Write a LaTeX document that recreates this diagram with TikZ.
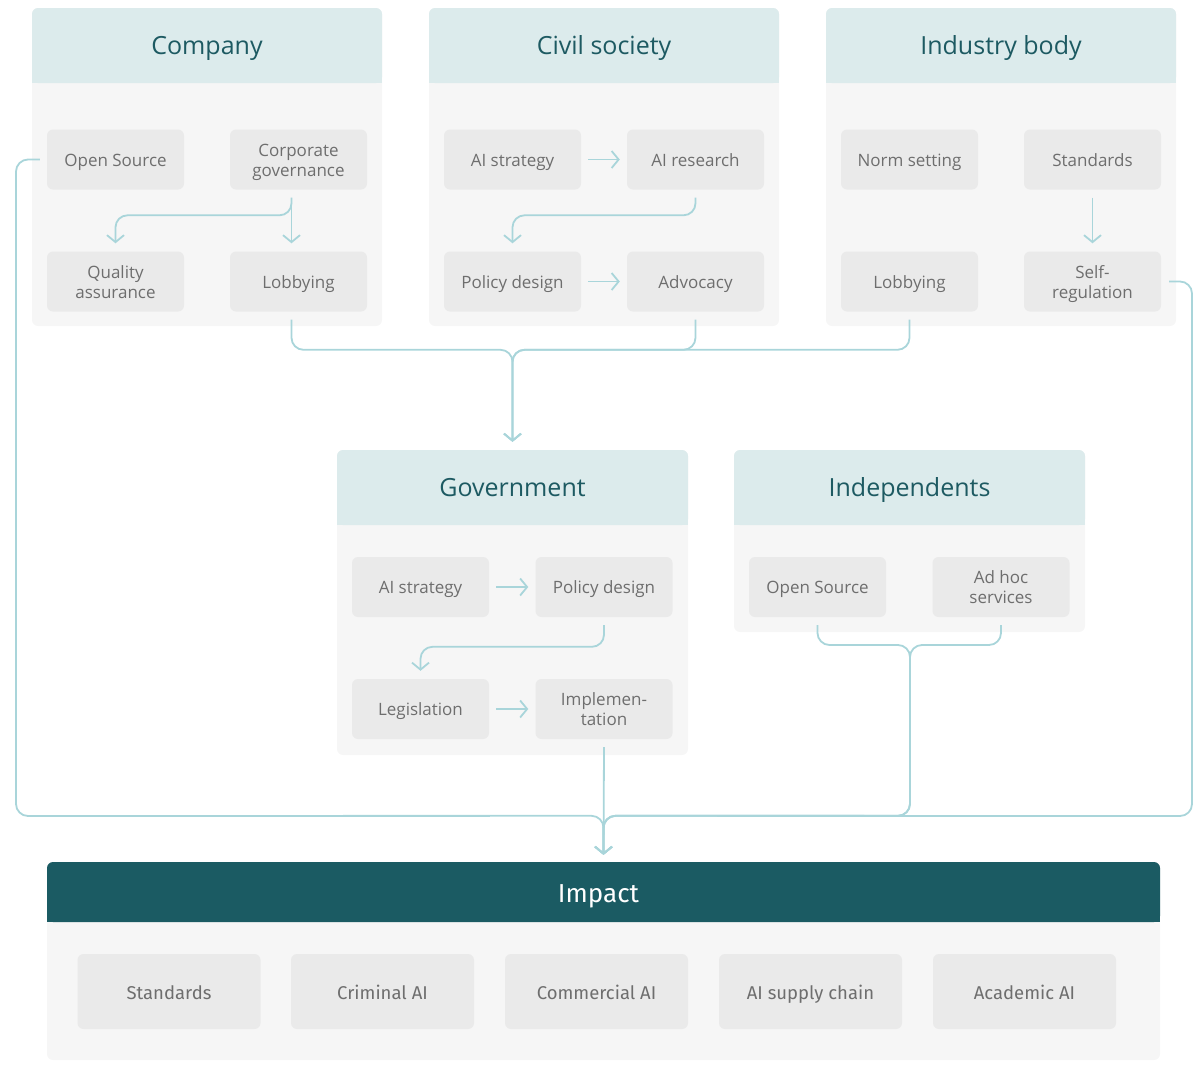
\documentclass[tikz,border=0pt]{standalone}
\usepackage{fontspec}
\setmainfont{Open Sans}
\newfontfamily\impactfont{Fira Sans}
\usetikzlibrary{arrows.meta,positioning,calc}
\definecolor{headfill}{HTML}{DCEBEC}
\definecolor{bodyfill}{HTML}{F6F6F6}
\definecolor{itemfill}{HTML}{EAEAEA}
\definecolor{itemgray}{HTML}{6E6E6E}
\definecolor{titleteal}{HTML}{1D5A62}
\definecolor{impactteal}{HTML}{1B5B63}
\definecolor{flowline}{HTML}{A9D5DA}
\newcommand{\itemstrut}{\rule[-6pt]{0pt}{25pt}}
\newcommand{\outstrut}{\rule[-6pt]{0pt}{27pt}}
\newcommand{\twolines}[2]{\rule{0pt}{19pt}#1\\#2\rule[-6pt]{0pt}{6pt}}
\tikzset{
  item/.style={fill=itemfill, rounded corners=6pt, minimum width=137pt, minimum height=60pt,
    inner sep=0pt, align=center, text=itemgray, font=\fontsize{17}{20}\selectfont,
    execute at begin node=\itemstrut},
  outcome/.style={fill=itemfill, rounded corners=6pt, minimum width=183pt, minimum height=75pt,
    inner sep=0pt, text=itemgray, font=\impactfont\fontsize{18.5}{22}\selectfont,
    execute at begin node=\outstrut},
  headtext/.style={text=titleteal, font=\fontsize{25}{30}\selectfont, inner sep=0pt,
    text height=20pt, text depth=3pt},
  flow/.style={draw=flowline, line width=1.8pt, rounded corners=12pt},
  tip/.style={-{Straight Barb[length=7pt,width=17pt]}}
}
% panel: name, left, right, top, bottom, title
\newcommand{\groupbox}[6]{%
  \fill[bodyfill,rounded corners=6pt] (#2,#4) rectangle (#3,#5);
  \fill[headfill,rounded corners=6pt] (#2,#4) rectangle (#3,#4+75);
  \fill[headfill] (#2,#4+40) rectangle (#3,#4+75);
  \node[headtext,minimum width=#3pt-#2pt,minimum height=75pt] (#1) at ({(#2+#3)/2},#4+37.5) {#6};
}

\begin{document}
\begin{tikzpicture}[x=1pt,y=-1pt]
  \useasboundingbox (0,0) rectangle (1200,1066);

  % top row
  \groupbox{comp}{32}{382}{8}{326}{Company}
  \groupbox{civ}{429}{779}{8}{326}{Civil society}
  \groupbox{ind}{826}{1176}{8}{326}{Industry body}

  \node[item] (os1) at (115.5,159.5) {Open Source};
  \node[item] (cg) at (298.5,159.5) {\twolines{Corporate}{governance}};
  \node[item] (qa) at (115.5,281.5) {\twolines{Quality}{assurance}};
  \node[item] (lob1) at (298.5,281.5) {Lobbying};

  \node[item] (ais) at (512.5,159.5) {AI strategy};
  \node[item] (air) at (695.5,159.5) {AI research};
  \node[item] (pd1) at (512.5,281.5) {Policy design};
  \node[item] (adv) at (695.5,281.5) {Advocacy};

  \node[item] (ns) at (909.5,159.5) {Norm setting};
  \node[item] (std1) at (1092.5,159.5) {Standards};
  \node[item] (lob2) at (909.5,281.5) {Lobbying};
  \node[item] (sr) at (1092.5,281.5) {\twolines{Self-}{regulation}};

  % middle row
  \groupbox{gov}{337}{688}{450}{755}{Government}
  \groupbox{indep}{734}{1085}{450}{632}{Independents}

  \node[item] (ais2) at (420.5,587) {AI strategy};
  \node[item] (pd2) at (604,587) {Policy design};
  \node[item] (leg) at (420.5,709) {Legislation};
  \node[item] (imp) at (604,709) {\twolines{Implemen-}{tation}};

  \node[item] (os2) at (817.5,587) {Open Source};
  \node[item] (adhoc) at (1001,587) {\twolines{Ad hoc}{services}};

  % impact
  \fill[bodyfill,rounded corners=6pt] (47,862) rectangle (1160,1060);
  \fill[impactteal,rounded corners=6pt] (47,862) rectangle (1160,922);
  \fill[impactteal] (47,890) rectangle (1160,922);
  \node[minimum width=1113pt,minimum height=60pt,inner sep=0pt] (impact) at (603.5,892) {};
  \node[text=white,font=\impactfont\fontsize{26}{30}\selectfont,inner sep=0pt,
        text height=24pt,text depth=3pt] (impacttitle) at (598.5,892) {Impact};
  \foreach \n/\x/\t in {std2/169/Standards, crim/382.5/Criminal AI, comm/596.5/Commercial AI,
                        supply/810.5/AI supply chain, acad/1024.5/Academic AI}
    \node[outcome] (\n) at (\x,991.5) {\t};

  % connectors inside panels
  \draw[flow,tip] ([xshift=-7pt,yshift=-8pt]cg.south) -- ([xshift=-7pt,yshift=8pt]lob1.north);
  \draw[flow,tip] ([xshift=-7pt,yshift=-8pt]cg.south) |- ([yshift=36pt]qa.north) -- ([yshift=8pt]qa.north);
  \draw[flow,tip] ([xshift=7pt]ais.east) -- ([xshift=-7pt]air.west);
  \draw[flow,tip] ([yshift=-8pt]air.south) |- ([yshift=36pt]pd1.north) -- ([yshift=8pt]pd1.north);
  \draw[flow,tip] ([xshift=7pt]pd1.east) -- ([xshift=-7pt]adv.west);
  \draw[flow,tip] ([yshift=-8pt]std1.south) -- ([yshift=8pt]sr.north);
  \draw[flow,tip] ([xshift=7pt]ais2.east) -- ([xshift=-7pt]pd2.west);
  \draw[flow,tip] ([yshift=-8pt]pd2.south) |- ([yshift=32pt]leg.north) -- ([yshift=8pt]leg.north);
  \draw[flow,tip] ([xshift=7pt]leg.east) -- ([xshift=-7pt]imp.west);

  % into government
  \coordinate (govin) at ([yshift=100pt]gov.north);
  \draw[flow,tip] ([xshift=-7pt,yshift=-8pt]lob1.south) |- (govin) -- ([yshift=8pt]gov.north);
  \draw[flow,tip] ([yshift=-8pt]adv.south) |- (govin) -- ([yshift=8pt]gov.north);
  \draw[flow,tip] ([yshift=-8pt]lob2.south) |- (govin) -- ([yshift=8pt]gov.north);

  % into impact
  \coordinate (impin) at ([yshift=46pt]impact.north);
  \coordinate (loopl) at (16,816);
  \coordinate (loopr) at (1192,816);
  \coordinate (indj) at (910,645);
  \draw[flow,tip] ([yshift=-8pt]imp.south) -- ([yshift=7pt]impact.north);
  \draw[flow,tip] ([xshift=-7pt]os1.west) -| (loopl) -- (impin) -- ([yshift=7pt]impact.north);
  \draw[flow,tip] ([yshift=-8pt]os2.south) |- (indj) |- (impin) -- ([yshift=7pt]impact.north);
  \draw[flow,tip] ([yshift=-8pt]adhoc.south) |- (indj) |- (impin) -- ([yshift=7pt]impact.north);
  \draw[flow,tip] ([xshift=8pt]sr.east) -| (loopr) -- (impin) -- ([yshift=7pt]impact.north);
\end{tikzpicture}
\end{document}
